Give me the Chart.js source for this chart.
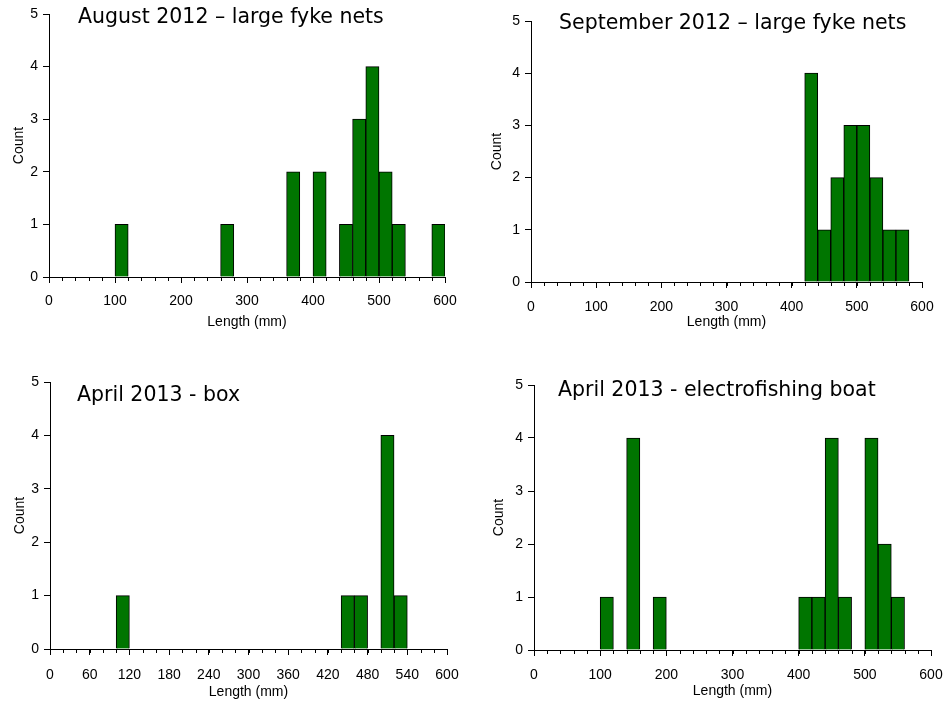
<!DOCTYPE html>
<html>
<head>
<meta charset="utf-8">
<script src="https://cdn.jsdelivr.net/npm/chart.js@4.4.1/dist/chart.umd.min.js"></script>
<style>
body { margin: 0; background: #fff; overflow: hidden; }
#wrap { position: relative; width: 948px; height: 703px; overflow: hidden; }
canvas { position: absolute; }
.ttl { position: absolute; font-family: "DejaVu Sans", Verdana, sans-serif; font-size: 20.5px; line-height: 20px; color: #000; white-space: nowrap; }
</style>
</head>
<body>
<div id="wrap">
    <canvas id="c1" width="474" height="332" style="left:0px;top:0px"></canvas>
    <canvas id="c2" width="474" height="332" style="left:474px;top:0px"></canvas>
    <canvas id="c3" width="474" height="363" style="left:0px;top:340px"></canvas>
    <canvas id="c4" width="490" height="363" style="left:474px;top:340px"></canvas>
    <div class="ttl" style="left:78px;top:6px">August 2012 – large fyke nets</div>
    <div class="ttl" style="left:559px;top:12px">September 2012 – large fyke nets</div>
    <div class="ttl" style="left:77px;top:384px">April 2013 - box</div>
    <div class="ttl" style="left:558px;top:379px">April 2013 - electrofishing boat</div>
</div>
<script>
// 20 mm length classes (lower edge of each class)
var binStarts = [0, 20, 40, 60, 80, 100, 120, 140, 160, 180,
                 200, 220, 240, 260, 280, 300, 320, 340, 360, 380,
                 400, 420, 440, 460, 480, 500, 520, 540, 560, 580];
var binWidth = 20;

var augFykeCounts = [0, 0, 0, 0, 0, 1, 0, 0, 0, 0,
                     0, 0, 0, 1, 0, 0, 0, 0, 2, 0,
                     2, 0, 1, 3, 4, 2, 1, 0, 0, 1];
var sepFykeCounts = [0, 0, 0, 0, 0, 0, 0, 0, 0, 0,
                     0, 0, 0, 0, 0, 0, 0, 0, 0, 0,
                     0, 4, 1, 2, 3, 3, 2, 1, 1, 0];
var aprBoxCounts = [0, 0, 0, 0, 0, 1, 0, 0, 0, 0,
                    0, 0, 0, 0, 0, 0, 0, 0, 0, 0,
                    0, 0, 1, 1, 0, 4, 1, 0, 0, 0];
var aprBoatCounts = [0, 0, 0, 0, 0, 1, 0, 4, 0, 1,
                     0, 0, 0, 0, 0, 0, 0, 0, 0, 0,
                     1, 1, 4, 1, 0, 4, 2, 1, 0, 0];

var countTicks = [0, 1, 2, 3, 4, 5];

Chart.defaults.font.family = '"Liberation Sans", Arial, sans-serif';
Chart.defaults.font.size = 14;
Chart.defaults.color = '#000';

// small ticks on every class edge
var minorTicks = {
    id: 'minorTicks',
    afterDraw: function (chart) {
        var xs = chart.scales.x;
        var ctx = chart.ctx;
        var y0 = chart.chartArea.bottom;
        ctx.save();
        ctx.strokeStyle = '#000';
        ctx.lineWidth = 1;
        binStarts.concat([600]).forEach(function (v) {
            var px = Math.round(xs.getPixelForValue(v)) + 0.5;
            ctx.beginPath();
            ctx.moveTo(px, y0);
            ctx.lineTo(px, y0 + 4);
            ctx.stroke();
        });
        ctx.restore();
    }
};

function makeHist(id, counts, g) {
    var points = binStarts.map(function (s, i) {
        return { x: s + binWidth / 2, y: counts[i] };
    });
    return new Chart(document.getElementById(id).getContext('2d'), {
        type: 'bar',
        data: {
            datasets: [{
                data: points,
                backgroundColor: '#007500',
                borderColor: '#000',
                borderWidth: 1,
                barPercentage: 1,
                categoryPercentage: 1
            }]
        },
        options: {
            responsive: false,
            animation: false,
            layout: { padding: { left: 0, right: g.right, top: g.top, bottom: 0 } },
            plugins: { legend: { display: false }, tooltip: { enabled: false } },
            scales: {
                x: {
                    type: 'linear',
                    offset: false,
                    min: 0,
                    max: 600,
                    grid: { drawOnChartArea: false, drawTicks: true, tickLength: 6, color: '#000', offset: false },
                    border: { display: true, color: '#000', width: 1 },
                    ticks: { stepSize: g.step, padding: g.tickPad, maxRotation: 0, autoSkip: false },
                    title: { display: true, text: 'Length (mm)', padding: { top: 0, bottom: g.xTitlePad } },
                    afterFit: function (scale) { scale.height = g.xHeight; }
                },
                y: {
                    min: 0,
                    max: 5,
                    grid: { drawOnChartArea: false, drawTicks: true, tickLength: 6, color: '#000' },
                    border: { display: true, color: '#000', width: 1 },
                    afterBuildTicks: function (scale) {
                        scale.ticks = countTicks.map(function (v) { return { value: v }; });
                    },
                    ticks: { padding: 5 },
                    title: { display: true, text: 'Count', padding: { top: g.yTitlePad, bottom: 0 } },
                    afterFit: function (scale) { scale.width = g.left; }
                }
            }
        },
        plugins: [minorTicks]
    });
}

makeHist('c1', augFykeCounts, { left: 49, right: 29, top: 14, xHeight: 55, step: 100, tickPad: 10, xTitlePad: 1, yTitlePad: 11 });
makeHist('c2', sepFykeCounts, { left: 57, right: 26, top: 21, xHeight: 50, step: 100, tickPad: 11, xTitlePad: 1, yTitlePad: 15 });
makeHist('c3', aprBoxCounts, { left: 50, right: 27, top: 42, xHeight: 54, step: 60, tickPad: 12, xTitlePad: 2, yTitlePad: 12 });
makeHist('c4', aprBoatCounts, { left: 60, right: 33, top: 45, xHeight: 53, step: 100, tickPad: 11, xTitlePad: 3, yTitlePad: 17 });
</script>
</body>
</html>
